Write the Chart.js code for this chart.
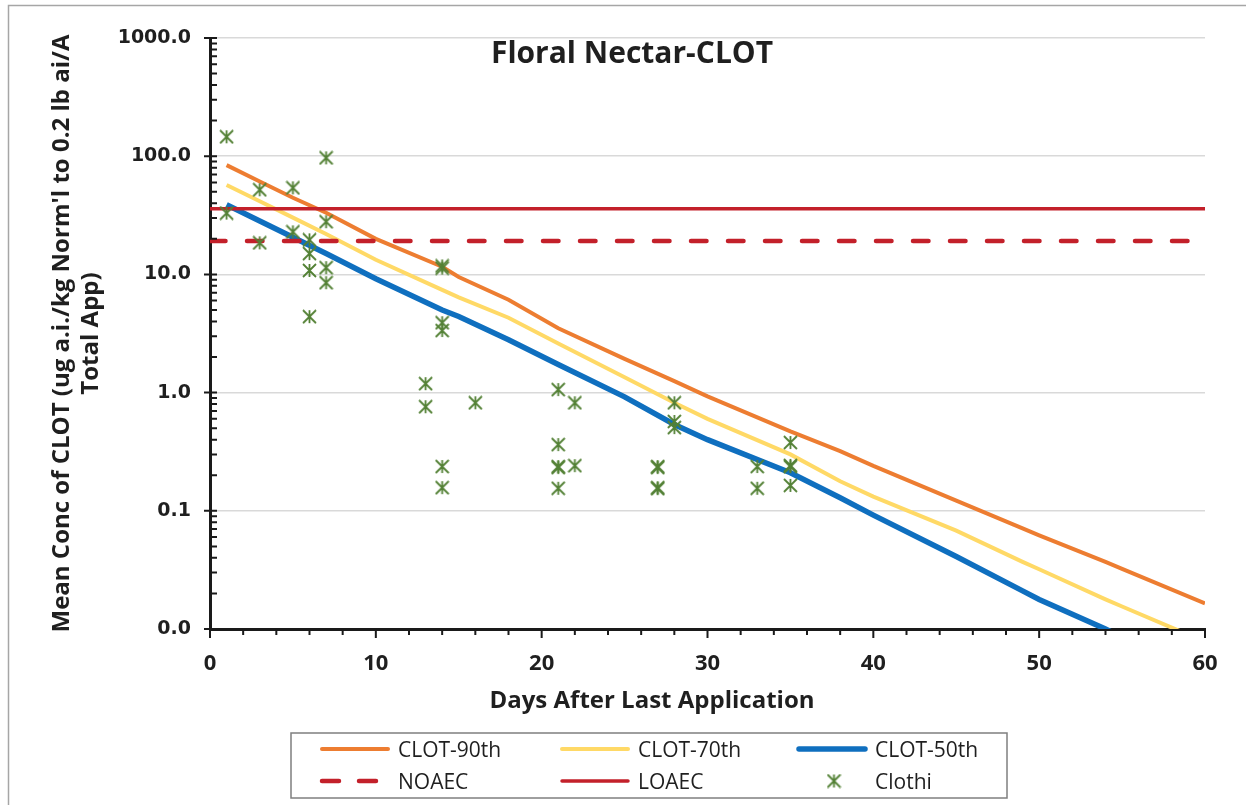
<!DOCTYPE html>
<html>
<head>
<meta charset="utf-8">
<script src="https://cdn.jsdelivr.net/npm/chart.js@4.4.1/dist/chart.umd.min.js"></script>
<style>
  html, body { margin: 0; padding: 0; background: #fff; }
</style>
</head>
<body>
<canvas id="nectarChart" width="1246" height="805"></canvas>
<script>
// days at which the percentile curves were read
const curveDays = [1, 3, 5, 7, 10, 14, 15, 18, 21, 25, 28, 30, 35, 38, 40, 45, 49, 50, 54, 55, 60];
const clot90 = [84, 61, 44.5, 33.2, 20, 11.6, 9.5, 6.1, 3.5, 1.93, 1.25, 0.93, 0.47, 0.32, 0.24, 0.122, 0.071, 0.062, 0.037, 0.0323, 0.0165];
const clot70 = [57, 41.6, 30.2, 22, 13.3, 7.4, 6.4, 4.3, 2.6, 1.35, 0.82, 0.6, 0.30, 0.178, 0.132, 0.068, 0.037, 0.032, 0.0178, 0.0155, 0.0078];
const clot50 = [38.8, 28.3, 20.6, 15, 9.2, 5.0, 4.4, 2.8, 1.73, 0.92, 0.537, 0.40, 0.21, 0.129, 0.092, 0.041, 0.021, 0.0178, 0.01, 0.0085, 0.0035];

// effect thresholds
const thresholdDays = [0, 60];
const noaec = [19.2, 19.2];
const loaec = [36, 36];

// measured residues (Clothi)
const clothiDays = [1, 1, 3, 3, 5, 5, 6, 6, 6, 6, 7, 7, 7, 7, 13, 13, 14, 14, 14, 14, 14, 14, 16,
  21, 21, 21, 21, 21, 22, 22, 27, 27, 27, 27, 28, 28, 28, 33, 33, 35, 35, 35, 35];
const clothiConc = [146, 33, 52, 18.5, 54, 22.9, 19.6, 15.0, 10.8, 4.39, 96.8, 27.9, 11.4, 8.5, 1.19, 0.76,
  11.8, 11.3, 3.9, 3.35, 0.237, 0.157, 0.82,
  1.06, 0.363, 0.237, 0.232, 0.155, 0.82, 0.241, 0.237, 0.232, 0.157, 0.154, 0.82, 0.57, 0.506,
  0.237, 0.155, 0.378, 0.242, 0.236, 0.164];

const yTickValues = [0.01, 0.1, 1, 10, 100, 1000];
const xTickValues = [0, 10, 20, 30, 40, 50, 60];

const ORANGE = '#ED7D31', YELLOW = '#FFD966', BLUE = '#0F6FBF', RED = '#C3202A', GREEN = '#538135';
const TEXT = '#1f1f1f';

function pairs(xs, ys) {
    return xs.map((x, i) => ({ x: x, y: ys[i] }));
}

function makeStar(size, color, lw) {
    const c = document.createElement('canvas');
    c.width = size; c.height = size;
    const g = c.getContext('2d');
    const m = size / 2, r = size / 2 - 1;
    g.strokeStyle = color;
    g.lineWidth = lw;
    g.beginPath();
    g.moveTo(m, m - r); g.lineTo(m, m + r);
    g.moveTo(m - r, m - r); g.lineTo(m + r, m + r);
    g.moveTo(m + r, m - r); g.lineTo(m - r, m + r);
    g.stroke();
    return c;
}
const starMark = makeStar(15, GREEN, 1.8);

// ticks, titles, legend and outer frame
const decorPlugin = {
    id: 'decor',
    afterDraw(chart) {
        const { ctx, chartArea: a, scales: { x, y } } = chart;
        ctx.save();

        // frame
        ctx.strokeStyle = '#a6a6a6';
        ctx.lineWidth = 1.5;
        ctx.beginPath();
        ctx.moveTo(8.5, 805); ctx.lineTo(8.5, 5.5); ctx.lineTo(1246, 5.5);
        ctx.stroke();

        // axis tick marks
        ctx.strokeStyle = '#1a1a1a';
        ctx.lineWidth = 2;
        ctx.beginPath();
        for (let k = -2; k <= 3; k++) {
            const py = y.getPixelForValue(Math.pow(10, k));
            ctx.moveTo(a.left - 6, py); ctx.lineTo(a.left + 7, py);
            if (k < 3) {
                for (let m = 2; m <= 9; m++) {
                    const p = y.getPixelForValue(m * Math.pow(10, k));
                    ctx.moveTo(a.left, p); ctx.lineTo(a.left + 7, p);
                }
            }
        }
        for (let d = 0; d <= 60; d += 2) {
            const px = x.getPixelForValue(d);
            ctx.moveTo(px, a.bottom); ctx.lineTo(px, a.bottom + (d % 10 === 0 ? 9 : 6));
        }
        ctx.stroke();

        // chart title and x axis title
        ctx.fillStyle = TEXT;
        ctx.textAlign = 'center';
        ctx.textBaseline = 'alphabetic';
        ctx.font = 'bold 30px "Open Sans"';
        ctx.fillText('Floral Nectar-CLOT', 632, 63);
        ctx.font = 'bold 24px "Open Sans"';
        ctx.fillText('Days After Last Application', 652, 708);

        // legend
        ctx.strokeStyle = '#7f7f7f';
        ctx.lineWidth = 1.5;
        ctx.strokeRect(291, 733, 716, 65);
        const cols = [320, 560, 797];
        const rows = [749, 781];
        const order = [0, 1, 2, 3, 4, 5];
        ctx.font = '21px "Open Sans"';
        ctx.textAlign = 'left';
        order.forEach((di, i) => {
            const ds = chart.data.datasets[di];
            const cx = cols[i % 3], cy = rows[Math.floor(i / 3)];
            if (ds.showLine === false) {
                ctx.drawImage(starMark, cx + 37 - 7.5, cy - 7.5);
            } else {
                ctx.save();
                ctx.strokeStyle = ds.borderColor;
                ctx.lineWidth = ds.borderWidth;
                ctx.lineCap = 'round';
                ctx.setLineDash(ds.borderDash ? [17, 20] : []);
                ctx.beginPath();
                ctx.moveTo(cx + 2, cy); ctx.lineTo(cx + 68, cy);
                ctx.stroke();
                ctx.restore();
            }
            ctx.fillStyle = TEXT;
            ctx.fillText(ds.label, cx + 78, cy + 8);
        });
        ctx.restore();
    }
};

const ctx = document.getElementById('nectarChart').getContext('2d');
const nectarChart = new Chart(ctx, {
    type: 'scatter',
    data: {
        datasets: [{
            label: 'CLOT-90th',
            data: pairs(curveDays, clot90),
            showLine: true,
            borderColor: ORANGE,
            borderWidth: 4,
            pointRadius: 0,
            order: 4
        }, {
            label: 'CLOT-70th',
            data: pairs(curveDays, clot70),
            showLine: true,
            borderColor: YELLOW,
            borderWidth: 4,
            pointRadius: 0,
            order: 3
        }, {
            label: 'CLOT-50th',
            data: pairs(curveDays, clot50),
            showLine: true,
            borderColor: BLUE,
            borderWidth: 5.5,
            pointRadius: 0,
            order: 5
        }, {
            label: 'NOAEC',
            data: pairs(thresholdDays, noaec),
            showLine: true,
            borderColor: RED,
            borderWidth: 4.5,
            borderDash: [15.5, 21.5],
            borderCapStyle: 'round',
            pointRadius: 0,
            order: 2
        }, {
            label: 'LOAEC',
            data: pairs(thresholdDays, loaec),
            showLine: true,
            borderColor: RED,
            borderWidth: 3.5,
            pointRadius: 0,
            order: 1
        }, {
            label: 'Clothi',
            data: pairs(clothiDays, clothiConc),
            showLine: false,
            pointStyle: starMark,
            pointRadius: 7,
            order: 0
        }]
    },
    options: {
        responsive: false,
        animation: false,
        layout: { padding: { top: 38, right: 41, bottom: 86, left: 8 } },
        plugins: {
            legend: { display: false },
            tooltip: { enabled: false }
        },
        scales: {
            x: {
                type: 'linear',
                min: 0,
                max: 60,
                afterFit: s => { s.height = 90; },
                afterBuildTicks: s => { s.ticks = xTickValues.map(v => ({ value: v })); },
                grid: { display: false, drawTicks: false },
                border: { color: '#1a1a1a', width: 3 },
                ticks: {
                    color: TEXT,
                    padding: 22,
                    font: { family: 'Open Sans', size: 22, weight: 'bold' }
                }
            },
            y: {
                type: 'logarithmic',
                min: 0.01,
                max: 1000,
                afterFit: s => { s.width = 202; },
                afterBuildTicks: s => { s.ticks = yTickValues.map(v => ({ value: v })); },
                grid: { color: '#d9d9d9', lineWidth: 1.5, drawTicks: false },
                border: { color: '#1a1a1a', width: 3 },
                ticks: {
                    color: TEXT,
                    padding: 19,
                    font: { family: 'DejaVu Sans', size: 19, weight: 'bold' },
                    callback: v => Number(v).toFixed(1)
                },
                title: {
                    display: true,
                    text: ["Mean Conc of CLOT (ug a.i./kg Norm'l to 0.2 lb ai/A", 'Total App)'],
                    color: TEXT,
                    padding: { top: 40, bottom: 0 },
                    font: { family: 'Open Sans', size: 24, weight: 'bold' }
                }
            }
        }
    },
    plugins: [decorPlugin]
});
</script>
</body>
</html>
